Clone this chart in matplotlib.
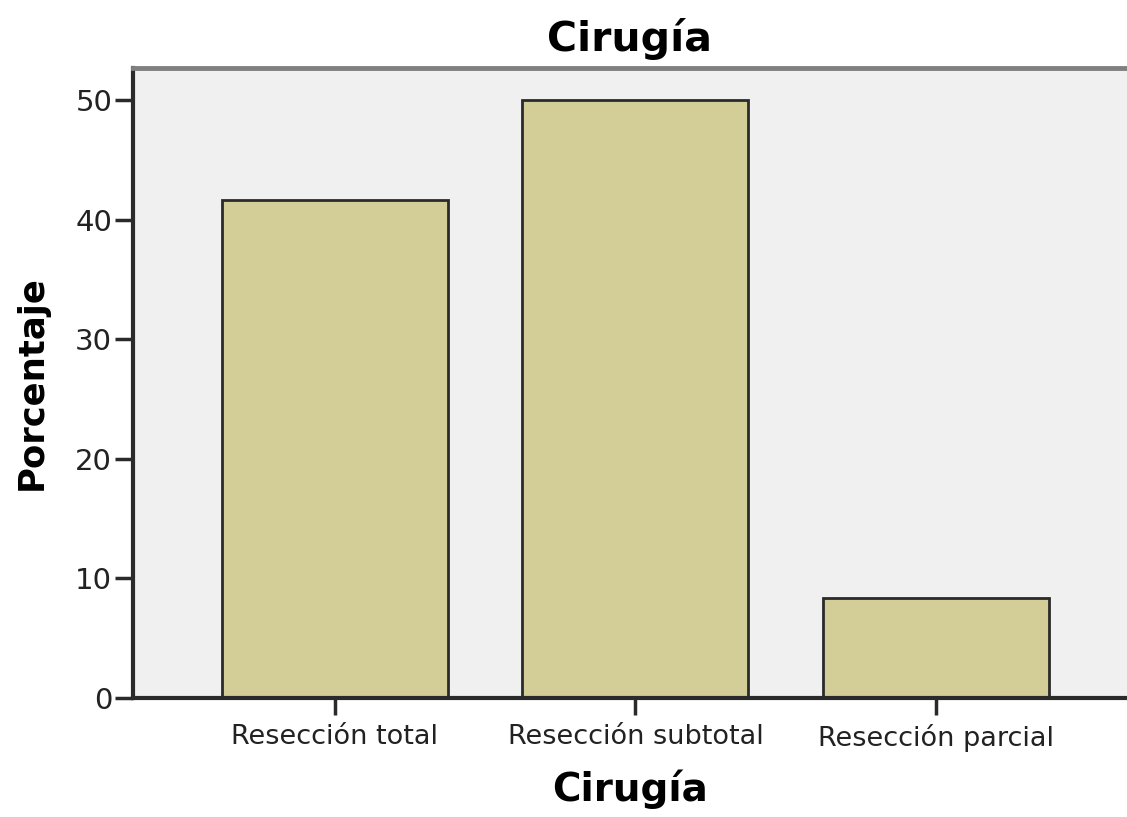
import matplotlib.pyplot as plt
import numpy as np

categories = ['Resección total', 'Resección subtotal', 'Resección parcial']
porcentaje = [41.67, 50.0, 8.33]
y_ticks = [0, 10, 20, 30, 40, 50]

fig = plt.figure(figsize=(11.27, 8.17), dpi=100)
ax = fig.add_axes([0.118, 0.1457, 0.882, 0.7711])
ax.set_facecolor('#f0f0f0')

x = np.arange(len(categories))
ax.bar(x, porcentaje, width=0.752, color='#d3ce97', edgecolor='#2a2a2a', linewidth=2.0)

ax.set_xlim(-0.672, 2.636)
ax.set_ylim(0, 52.7)
ax.set_yticks(y_ticks)
ax.set_xticks(x)
ax.set_xticklabels(categories)

ax.spines['right'].set_visible(False)
ax.spines['top'].set_color('#808080')
ax.spines['top'].set_linewidth(3.5)
for s in ['left', 'bottom']:
    ax.spines[s].set_color('#2a2a2a')
    ax.spines[s].set_linewidth(3)

ax.tick_params(axis='y', length=13, width=2.5, color='#2a2a2a', labelsize=21, pad=2, labelcolor='#222222')
ax.tick_params(axis='x', length=12, width=2.5, color='#2a2a2a', labelsize=19.5, pad=7, labelcolor='#222222')

ax.set_title('Cirugía', fontsize=29.5, fontweight='bold', pad=12)
ax.set_xlabel('Cirugía', fontsize=28, fontweight='bold', labelpad=12)
ax.set_ylabel('Porcentaje', fontsize=25.5, fontweight='bold', labelpad=19)

fig.savefig('out.png', dpi=100)
